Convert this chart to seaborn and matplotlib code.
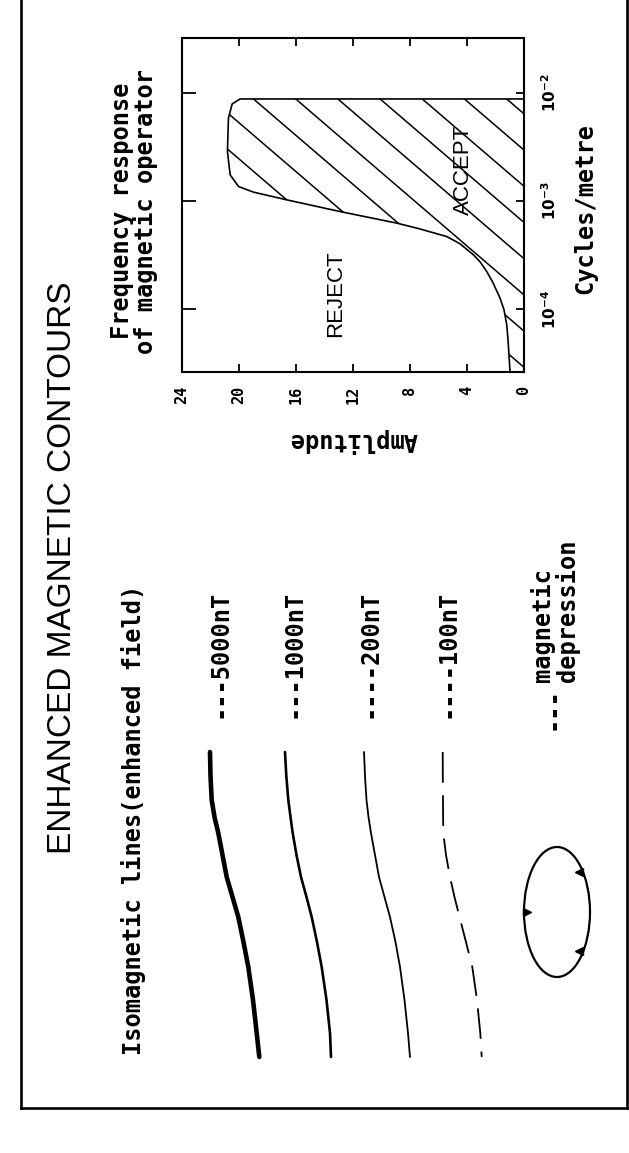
import numpy as np
import pandas as pd
import matplotlib
matplotlib.use("Agg")
import matplotlib.pyplot as plt
from matplotlib.patches import Ellipse
from matplotlib.lines import Line2D
from matplotlib.ticker import NullLocator
import seaborn as sns

# ---------------- data ----------------
# Frequency response of the magnetic operator (inset)
resp_log_freq = [-4.575, -4.283, -4.144, -4.006, -3.897, -3.756, -3.652, -3.562,
                 -3.497, -3.396, -3.329, -3.259, -3.205, -3.098, -2.990, -2.919,
                 -2.867, -2.759, -2.544, -2.236, -2.104, -2.058, -2.058]
resp_amplitude = [0.98, 1.12, 1.21, 1.40, 1.68, 2.17, 2.61, 3.08,
                  3.55, 4.48, 5.41, 7.28, 8.91, 12.89, 16.62, 18.95,
                  20.0, 20.59, 20.78, 20.71, 20.45, 19.89, 0.0]
amp_ticks = [0, 4, 8, 12, 16, 20, 24]
amp_tick_labels = ["0", "4", "8", "12", "16", "20", "24"]
freq_ticks = [1e-4, 1e-3, 1e-2]
freq_tick_labels = [r"$\mathbf{10^{-4}}$", r"$\mathbf{10^{-3}}$", r"$\mathbf{10^{-2}}$"]

# Legend part: isomagnetic contour lines (page units)
contour_labels = ["---5000nT", "---1000nT", "----200nT", "----100nT"]
contour_y = [752, 776, 800, 817, 833, 855, 877, 897, 917, 942, 967, 1000, 1033, 1057]
contour_x_5000 = [210, 210.5, 211.7, 214.5, 218.3, 222.5, 226.7, 232.5, 238.3, 243.5,
                  248.3, 253, 256.7, 259.3]
contour_x_1000 = [285, 286.3, 288.3, 290.5, 292.7, 296.5, 301, 306.5, 311.7, 317,
                  321.7, 326.5, 330, 331]
contour_x_200 = [364, 365, 366.5, 368.5, 371, 375, 379, 384.5, 390, 395.5,
                 400, 404.5, 408, 410]
contour_x_100 = [442.7, 442.8, 443, 443.1, 443.3, 446, 450, 454.5, 459.5, 466,
                 472.3, 477, 480.3, 481.7]

# Magnetic depression symbol
depression_center = (557, 912)
depression_size = (66, 130)
hachure_x = [527, 579, 579]
hachure_y = [912, 872, 951]
hachure_marker = [">", "<", "<"]

# ---------------- style ----------------
sns.set_style("white")
plt.rcParams["font.family"] = ["DejaVu Sans Mono", "DejaVu Sans"]
plt.rcParams["text.color"] = "black"
plt.rcParams["axes.edgecolor"] = "black"
plt.rcParams["xtick.color"] = "black"
plt.rcParams["ytick.color"] = "black"

W, H = 629, 1153
fig = plt.figure(figsize=(W / 100, H / 100), dpi=100)

# background axes = frame, data units are page pixels
bg = fig.add_axes([21 / W, (H - 1108) / H, 606 / W, 1108 / H])
bg.set_xlim(21, 627)
bg.set_ylim(1108, 0)
bg.set_xticks([])
bg.set_yticks([])
for side in ["left", "right", "bottom"]:
    bg.spines[side].set_visible(True)
    bg.spines[side].set_linewidth(1.9)
    bg.spines[side].set_color("black")
bg.spines["top"].set_visible(False)

mono = dict(family=["DejaVu Sans Mono", "DejaVu Sans"], fontweight="bold", color="black")
sans = dict(family=["Liberation Sans", "DejaVu Sans"], color="black")
FS = 17

# Title
bg.text(63, 568, "ENHANCED MAGNETIC CONTOURS", rotation=90, ha="center", va="center",
        fontsize=24, **sans)
bg.text(133, 1055, "Isomagnetic lines(enhanced field)", rotation=90, ha="center",
        va="bottom", fontsize=FS, **mono)

# contour lines
contour_sets = [contour_x_5000, contour_x_1000, contour_x_200, contour_x_100]
widths = [3.3, 1.9, 1.3, 1.3]
styles = ["-", "-", "-", (0, (17, 7))]
label_x = [220, 293, 370, 447]
for xs, lw, ls, lab, lx in zip(contour_sets, widths, styles, contour_labels, label_x):
    sns.lineplot(x=xs, y=contour_y, sort=False, estimator=None, ax=bg,
                 color="black", linewidth=lw, linestyle=ls)
    bg.text(lx, 718, lab, rotation=90, ha="center", va="bottom", fontsize=FS, **mono)

# depression symbol
bg.add_patch(Ellipse(depression_center, depression_size[0], depression_size[1],
                     fill=False, edgecolor="black", linewidth=1.6))
for hx, hy, hm in zip(hachure_x, hachure_y, hachure_marker):
    bg.plot([hx], [hy], marker=hm, color="black", markersize=6, linestyle="none")
bg.text(553, 730, "---", rotation=90, ha="center", va="bottom", fontsize=FS, **mono)
bg.text(555, 682, "magnetic\ndepression", rotation=90, ha="center", va="bottom",
        multialignment="left", linespacing=1.0, fontsize=FS, **mono)

# inset labels
bg.text(134, 211, "Frequency response\nof magnetic operator", rotation=90, ha="center",
        va="center", multialignment="center", linespacing=1.0, fontsize=FS, **mono)
bg.text(353, 440, "Amplitude", rotation=180, ha="center", va="center", fontsize=FS, **mono)
bg.text(585, 208, "Cycles/metre", rotation=90, ha="center", va="center", fontsize=FS, **mono)

# ---------------- inset: frequency response ----------------
ax = fig.add_axes([181.5 / W, (H - 372) / H, 342.5 / W, 334 / H])
ax.set_facecolor("none")
ax.set_yscale("log")
freq = [10 ** v for v in resp_log_freq]
sns.lineplot(x=resp_amplitude, y=freq, sort=False, estimator=None, ax=ax,
             color="black", linewidth=1.2)

fill = ax.fill_betweenx(freq, resp_amplitude, 0, facecolor="none", edgecolor="none")
clip_path = fill.get_paths()[0]
hatch_step = 0.1232
hatch_x_top = 0.9495
hatch_y_top = 0.8174
hatch_slope = -0.880
for k in range(-6, 16):
    x0 = hatch_x_top - k * hatch_step
    ln = Line2D([x0 - 2, x0 + 2],
                [hatch_y_top - 2 * hatch_slope, hatch_y_top + 2 * hatch_slope],
                transform=ax.transAxes, color="black", linewidth=1.1)
    ax.add_line(ln)
    ln.set_clip_path(clip_path, fill.get_transform())

ax.text(4.27, 10 ** -2.713, "ACCEPT", rotation=90, ha="center", va="center",
        fontsize=16, **sans)
ax.text(13.17, 10 ** -3.857, "REJECT", rotation=90, ha="center", va="center",
        fontsize=16, **sans)

ax.set_xlim(24, 0)
ax.set_ylim(10 ** -4.58, 10 ** -1.495)
ax.set_xticks(amp_ticks)
ax.set_xticklabels(amp_tick_labels, rotation=90, fontsize=11, fontweight="bold",
                   family=["DejaVu Sans Mono"])
ax.set_yticks(freq_ticks)
ax.set_yticklabels(freq_tick_labels, rotation=90, fontsize=11, va="center")
ax.yaxis.set_minor_locator(NullLocator())
ax.xaxis.set_minor_locator(NullLocator())
ax.tick_params(axis="x", direction="in", length=6, width=1.3, top=True, bottom=True,
               labelbottom=True, labeltop=False, pad=10)
ax.tick_params(axis="y", direction="in", length=10, width=1.3, left=True, right=True,
               labelleft=False, labelright=True, pad=12)
for t in ax.yaxis.get_major_ticks():
    t.tick2line.set_markersize(6)
for s in ax.spines.values():
    s.set_visible(True)
    s.set_linewidth(1.5)
    s.set_color("black")

fig.savefig("out.png", dpi=100, facecolor="white")
